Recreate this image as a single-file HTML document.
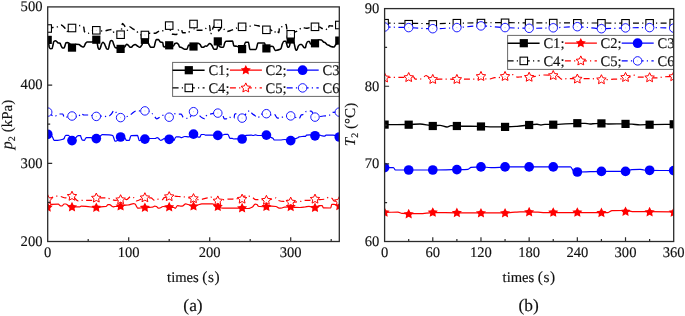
<!DOCTYPE html><html><head><meta charset="utf-8"><style>html,body{margin:0;padding:0;background:#fff;}body{width:685px;height:316px;overflow:hidden;}svg{display:block;will-change:transform;}text{font-family:"Liberation Serif", serif;fill:#111;stroke:#111;stroke-width:0.15px;text-rendering:geometricPrecision;}</style></head><body>
<svg width="685" height="316" viewBox="0 0 685 316">
<defs><clipPath id="ca"><rect x="47.7" y="6.9" width="291.6" height="234.6"/></clipPath><clipPath id="cb"><rect x="384.6" y="8.6" width="289.1" height="232.9"/></clipPath></defs>
<g clip-path="url(#ca)">
<path d="M47.7 40 C48.07 41.5 48.43 42.67 48.8 44.5 C48.97 45.33 49.13 47.18 49.3 47.5 C49.7 48.26 50.1 48.7 50.5 48.7 C51 48.7 51.5 48.67 52 48.6 C52.33 48.55 52.67 46.32 53 45 C53.27 43.94 53.53 41.72 53.8 41.5 C54.37 41.03 54.93 40.8 55.5 40.8 C56 40.8 56.5 41.38 57 41.8 C57.33 42.08 57.67 42.78 58 42.9 C58.67 43.14 59.33 43.04 60 43.3 C60.4 43.46 60.8 45.27 61.2 46 C61.63 46.79 62.07 48 62.5 48 C63 48 63.5 48 64 48 C64.4 48 64.8 46.05 65.2 45 C65.47 44.3 65.73 42.87 66 42.8 C66.5 42.66 67 42.6 67.5 42.6 C68.33 42.6 69.17 43.14 70 44 C70.37 44.38 70.73 47 71.1 47.25 C71.4 47.45 71.7 47.6 72 47.6 C72.33 47.6 72.67 47.41 73 47.25 C74 46.77 75 44.2 76 44.2 C77 44.2 78 44.31 79 44.5 C79.67 44.62 80.33 45.58 81 46 C81.6 46.38 82.2 47 82.8 47 C83.27 47 83.73 46.68 84.2 46.3 C84.63 45.95 85.07 44.1 85.5 43.5 C86 42.81 86.5 42.02 87 42 C88.67 41.92 90.33 41.97 92 41.9 C93.1 41.85 94.2 40.51 95.3 40.05 C95.63 39.91 95.97 39.7 96.3 39.7 C96.47 39.7 96.63 39.84 96.8 40.05 C97 40.3 97.2 42.76 97.4 44 C97.6 45.23 97.8 46.89 98 47.5 C98.24 48.23 98.48 48.73 98.72 48.95 C98.91 49.13 99.11 49.3 99.3 49.3 C99.48 49.3 99.66 49.13 99.84 48.95 C100.06 48.73 100.28 48.08 100.5 47.5 C100.77 46.8 101.03 45.43 101.3 44.8 C101.8 43.62 102.3 42.2 102.8 42.2 C103.3 42.2 103.8 42.87 104.3 43.5 C104.77 44.09 105.23 45.69 105.7 46.7 C106.05 47.45 106.4 48.62 106.75 48.85 C107.03 49.04 107.31 49.2 107.6 49.2 C107.88 49.2 108.17 49.06 108.45 48.85 C108.8 48.6 109.15 45.36 109.5 44.1 C109.85 42.84 110.2 41.19 110.55 40.95 C110.83 40.75 111.12 40.6 111.4 40.6 C111.73 40.6 112.07 40.75 112.4 40.95 C112.9 41.24 113.4 43.63 113.9 44.8 C114.33 45.81 114.77 47.42 115.2 47.6 C115.8 47.85 116.4 47.86 117 48 C118.2 48.28 119.4 48.9 120.6 48.9 C121.97 48.9 123.33 48.03 124.7 47 C125.33 46.52 125.97 44.2 126.6 44.2 C127.23 44.2 127.87 44.94 128.5 45.5 C128.9 45.86 129.31 46.73 129.71 46.95 C130.04 47.13 130.37 47.3 130.7 47.3 C131.03 47.3 131.37 47.12 131.7 46.95 C132.13 46.72 132.57 45.82 133 45.5 C133.7 44.99 134.4 44.4 135.1 44.4 C135.9 44.4 136.7 45.49 137.5 46 C138.2 46.45 138.9 47.3 139.6 47.3 C140.33 47.3 141.07 46.12 141.8 45.1 C142.53 44.08 143.27 40.56 144 40.15 C144.33 39.96 144.67 39.8 145 39.8 C145.33 39.8 145.67 39.98 146 40.15 C146.9 40.61 147.8 42.51 148.7 44 C148.97 44.44 149.23 45.08 149.5 45.5 C149.93 46.18 150.37 47.2 150.8 47.2 C151.9 47.2 153 47.2 154.1 47.2 C154.43 47.2 154.77 44.13 155.1 43 C155.5 41.64 155.9 39.6 156.3 39.6 C157.03 39.6 157.77 39.6 158.5 39.6 C159.13 39.6 159.77 41.9 160.4 42.1 C161.17 42.34 161.93 42.2 162.7 42.5 C162.97 42.61 163.25 46.3 163.52 46.55 C163.75 46.76 163.97 46.9 164.2 46.9 C164.53 46.9 164.87 46.66 165.2 46.55 C166.57 46.1 167.93 45.3 169.3 45.3 C170.67 45.3 172.03 46 173.4 46 C173.93 46 174.47 43.79 175 43.5 C175.63 43.16 176.27 42.9 176.9 42.9 C177.43 42.9 177.97 43.77 178.5 44.5 C178.9 45.05 179.3 46.83 179.7 47 C180.3 47.25 180.9 47.19 181.5 47.4 C182 47.57 182.5 48.21 183 48.5 C183.5 48.79 184 49.2 184.5 49.2 C185.33 49.2 186.17 49.2 187 49.2 C187.53 49.2 188.07 45.1 188.6 45.1 C190.3 45.1 192 46.5 193.7 46.5 C195.13 46.5 196.57 43.3 198 43.3 C198.67 43.3 199.33 43.86 200 44.4 C200.63 44.91 201.27 47.3 201.9 47.3 C202.43 47.3 202.97 47.26 203.5 47.2 C204.13 47.13 204.77 46 205.4 46 C205.77 46 206.13 46.2 206.5 46.2 C207 46.2 207.5 45.44 208 45 C208.5 44.56 209 43.5 209.5 43.5 C209.83 43.5 210.17 43.65 210.5 43.8 C211 44.03 211.5 44.75 212 45.5 C212.33 46 212.67 46.96 213 47.6 C213.3 48.18 213.6 49.2 213.9 49.2 C214.77 49.2 215.63 49.2 216.5 49.2 C216.83 49.2 217.17 48.33 217.5 46 C217.56 45.62 217.61 42 217.67 41.75 C217.71 41.54 217.76 41.4 217.8 41.4 C217.98 41.4 218.16 41.54 218.34 41.75 C218.56 42 218.78 45.75 219 46 C219.83 46.96 220.67 47.3 221.5 47.3 C222.13 47.3 222.77 47.3 223.4 47.3 C223.83 47.3 224.27 43.81 224.7 43 C225.13 42.19 225.57 41.33 226 41.3 C228.2 41.13 230.4 41.1 232.6 41.1 C233.03 41.1 233.47 45.93 233.9 46 C234.83 46.15 235.77 46.09 236.7 46.2 C238.17 46.38 239.63 48.14 241.1 48.75 C241.43 48.89 241.77 49.1 242.1 49.1 C242.43 49.1 242.77 48.94 243.1 48.75 C243.93 48.29 244.77 42.2 245.6 42.2 C246.53 42.2 247.47 42.2 248.4 42.2 C248.93 42.2 249.47 49.5 250 49.5 C252 49.5 254 49.5 256 49.5 C256.43 49.5 256.87 46.51 257.3 45 C257.5 44.3 257.7 42.9 257.9 42.9 C260.13 42.9 262.37 42.9 264.6 42.9 C265 42.9 265.41 47.79 265.81 48.05 C266.14 48.26 266.47 48.4 266.8 48.4 C267.13 48.4 267.47 48.19 267.8 48.05 C268.87 47.61 269.93 46.3 271 46.3 C271.67 46.3 272.33 46.38 273 46.5 C273.77 46.64 274.53 50.5 275.3 50.5 C275.87 50.5 276.43 50.32 277 50.2 C277.8 50.03 278.6 49.83 279.4 49.5 C279.93 49.28 280.47 49.08 281 48.5 C281.43 48.03 281.87 45 282.3 44 C282.83 42.78 283.37 41.3 283.9 41.3 C284.53 41.3 285.17 41.3 285.8 41.3 C286.1 41.3 286.4 43.05 286.7 44 C286.99 44.93 287.29 46.71 287.58 46.95 C287.82 47.15 288.06 47.3 288.3 47.3 C288.54 47.3 288.78 47.15 289.02 46.95 C289.31 46.71 289.61 45.71 289.9 44.4 C290.08 43.58 290.27 40.1 290.45 39.85 C290.6 39.64 290.75 39.5 290.9 39.5 C291.23 39.5 291.57 39.67 291.9 39.85 C292.6 40.22 293.3 41.49 294 43 C294.63 44.37 295.27 50.1 295.9 50.1 C296.2 50.1 296.5 50.1 296.8 50.1 C297.33 50.1 297.87 46.77 298.4 46 C298.93 45.23 299.47 44.4 300 44.4 C300.53 44.4 301.07 44.4 301.6 44.4 C302.13 44.4 302.67 45.87 303.2 46.5 C303.6 46.97 304 47.8 304.4 47.8 C304.77 47.8 305.13 47.7 305.5 47.5 C305.77 47.36 306.03 44.65 306.3 44 C306.83 42.7 307.37 41.5 307.9 41.5 C308.43 41.5 308.97 41.5 309.5 41.5 C309.83 41.5 310.17 44 310.5 44 C312 44 313.5 43.7 315 43.3 C316.33 42.94 317.67 39.8 319 39.8 C319.83 39.8 320.67 39.87 321.5 40 C322.17 40.1 322.83 41.67 323.5 42 C324 42.24 324.5 42.25 325 42.5 C325.67 42.83 326.33 44.25 327 44.6 C327.67 44.95 328.33 44.99 329 45.3 C329.6 45.58 330.2 46.34 330.8 46.5 C331.87 46.79 332.93 47 334 47 C334.5 47 335 45.63 335.5 45 C336.77 43.41 338.03 42.07 339.3 40.6" fill="none" stroke="#000" stroke-width="1.55" stroke-linejoin="round"/><rect x="43.6" y="35.8" width="8.2" height="8.2" fill="#000"/><rect x="67.9" y="43.5" width="8.2" height="8.2" fill="#000"/><rect x="92.2" y="35.6" width="8.2" height="8.2" fill="#000"/><rect x="116.5" y="44.8" width="8.2" height="8.2" fill="#000"/><rect x="140.8" y="35.7" width="8.2" height="8.2" fill="#000"/><rect x="165.1" y="41.2" width="8.2" height="8.2" fill="#000"/><rect x="189.4" y="42.4" width="8.2" height="8.2" fill="#000"/><rect x="213.7" y="37.3" width="8.2" height="8.2" fill="#000"/><rect x="238" y="45" width="8.2" height="8.2" fill="#000"/><rect x="262.3" y="44.3" width="8.2" height="8.2" fill="#000"/><rect x="286.6" y="35.4" width="8.2" height="8.2" fill="#000"/><rect x="310.9" y="39.2" width="8.2" height="8.2" fill="#000"/><rect x="335.2" y="36.5" width="8.2" height="8.2" fill="#000"/>
<path d="M47.7 207.4 C48.47 206.77 49.23 206.14 50 205.5 C50.43 205.14 50.87 204.43 51.3 204.4 C53.63 204.24 55.97 204.2 58.3 204.2 C59.07 204.2 59.83 205.81 60.6 205.9 C61.07 205.96 61.53 206 62 206 C62.7 206 63.4 204 64.1 204 C64.73 204 65.37 204 66 204 C66.5 204 67 204.73 67.5 205 C69.13 205.89 70.77 207.1 72.4 207.1 C73.83 207.1 75.27 206.8 76.7 206.8 C77.77 206.8 78.83 206.8 79.9 206.8 C80.3 206.8 80.7 206.2 81.1 206.2 C82.73 206.2 84.37 206.25 86 206.3 C89.63 206.42 93.27 207.7 96.9 207.7 C98.27 207.7 99.63 206.93 101 206.8 C102.67 206.64 104.33 206.71 106 206.5 C106.67 206.41 107.33 204.7 108 204.7 C108.57 204.7 109.13 204.7 109.7 204.7 C110.47 204.7 111.23 205.91 112 206.3 C112.4 206.5 112.8 206.8 113.2 206.8 C113.8 206.8 114.4 206.54 115 206.5 C116.87 206.38 118.73 206.43 120.6 206.3 C121.73 206.22 122.87 205.44 124 205.3 C125.33 205.14 126.67 205.15 128 205 C129.9 204.79 131.8 203.6 133.7 203.6 C134.13 203.6 134.57 203.78 135 204 C135.53 204.27 136.07 205.71 136.6 206.5 C137 207.09 137.4 208.2 137.8 208.2 C138.53 208.2 139.27 208.05 140 208 C141.67 207.88 143.33 207.81 145 207.7 C146.67 207.59 148.33 207.44 150 207.3 C150.8 207.23 151.6 207.21 152.4 207.1 C153.17 206.99 153.93 206.2 154.7 206.2 C155.3 206.2 155.9 206.33 156.5 206.5 C157.1 206.67 157.7 208.2 158.3 208.2 C158.87 208.2 159.43 208.1 160 208 C161 207.82 162 206.5 163 206.5 C165.13 206.5 167.27 206.91 169.4 207.1 C170.93 207.24 172.47 207.22 174 207.5 C174.4 207.57 174.8 208.3 175.2 208.3 C175.97 208.3 176.73 205.6 177.5 205.6 C178.33 205.6 179.17 205.9 180 206 C180.73 206.08 181.47 206.2 182.2 206.2 C183.37 206.2 184.53 203.9 185.7 203.9 C186.47 203.9 187.23 204.29 188 204.5 C189.97 205.05 191.93 206.3 193.9 206.3 C195.27 206.3 196.63 205.43 198 205 C199.27 204.6 200.53 203.8 201.8 203.8 C205.33 203.8 208.87 203.8 212.4 203.8 C214.33 203.8 216.27 206.08 218.2 206.8 C219.77 207.39 221.33 208.2 222.9 208.2 C227.27 208.2 231.63 208.2 236 208.2 C238.07 208.2 240.13 208.1 242.2 208.1 C243.77 208.1 245.33 208.5 246.9 208.5 C247.77 208.5 248.63 208.41 249.5 208.3 C250.5 208.17 251.5 207.7 252.5 207.1 C253.37 206.58 254.23 204.1 255.1 204.1 C255.73 204.1 256.37 204.26 257 204.5 C257.43 204.66 257.87 206.06 258.3 206.2 C258.87 206.38 259.43 206.45 260 206.5 C262.2 206.68 264.4 206.8 266.6 206.8 C268.23 206.8 269.87 206.2 271.5 206.2 C273 206.2 274.5 206.31 276 206.5 C277.03 206.63 278.07 208.2 279.1 208.2 C280.07 208.2 281.03 208.12 282 208 C282.8 207.9 283.6 207.15 284.4 207.1 C286.5 206.96 288.6 206.9 290.7 206.9 C292.3 206.9 293.9 207.34 295.5 207.4 C297 207.45 298.5 207.5 300 207.5 C301.67 207.5 303.33 207.21 305 207 C306.33 206.83 307.67 206.3 309 206.3 C310.87 206.3 312.73 207.8 314.6 207.8 C316.23 207.8 317.87 205.6 319.5 205.6 C320.4 205.6 321.3 205.62 322.2 205.7 C322.57 205.73 322.93 207.89 323.3 207.9 C325.77 207.99 328.23 208 330.7 208 C331.07 208 331.43 204.4 331.8 204.4 C332.53 204.4 333.27 204.4 334 204.4 C335.77 204.4 337.53 205.47 339.3 206" fill="none" stroke="#ff0000" stroke-width="1.2" stroke-linejoin="round"/><polygon points="47.7,202.1 49.26,205.26 52.74,205.76 50.22,208.22 50.82,211.69 47.7,210.05 44.58,211.69 45.18,208.22 42.66,205.76 46.14,205.26" fill="#ff0000"/><polygon points="72,201.8 73.56,204.96 77.04,205.46 74.52,207.92 75.12,211.39 72,209.75 68.88,211.39 69.48,207.92 66.96,205.46 70.44,204.96" fill="#ff0000"/><polygon points="96.3,202.4 97.86,205.56 101.34,206.06 98.82,208.52 99.42,211.99 96.3,210.35 93.18,211.99 93.78,208.52 91.26,206.06 94.74,205.56" fill="#ff0000"/><polygon points="120.6,201 122.16,204.16 125.64,204.66 123.12,207.12 123.72,210.59 120.6,208.95 117.48,210.59 118.08,207.12 115.56,204.66 119.04,204.16" fill="#ff0000"/><polygon points="144.9,202.4 146.46,205.56 149.94,206.06 147.42,208.52 148.02,211.99 144.9,210.35 141.78,211.99 142.38,208.52 139.86,206.06 143.34,205.56" fill="#ff0000"/><polygon points="169.2,201.8 170.76,204.96 174.24,205.46 171.72,207.92 172.32,211.39 169.2,209.75 166.08,211.39 166.68,207.92 164.16,205.46 167.64,204.96" fill="#ff0000"/><polygon points="193.5,201 195.06,204.16 198.54,204.66 196.02,207.12 196.62,210.59 193.5,208.95 190.38,210.59 190.98,207.12 188.46,204.66 191.94,204.16" fill="#ff0000"/><polygon points="217.8,201.5 219.36,204.66 222.84,205.16 220.32,207.62 220.92,211.09 217.8,209.45 214.68,211.09 215.28,207.62 212.76,205.16 216.24,204.66" fill="#ff0000"/><polygon points="242.1,202.8 243.66,205.96 247.14,206.46 244.62,208.92 245.22,212.39 242.1,210.75 238.98,212.39 239.58,208.92 237.06,206.46 240.54,205.96" fill="#ff0000"/><polygon points="266.4,201.5 267.96,204.66 271.44,205.16 268.92,207.62 269.52,211.09 266.4,209.45 263.28,211.09 263.88,207.62 261.36,205.16 264.84,204.66" fill="#ff0000"/><polygon points="290.7,201.6 292.26,204.76 295.74,205.26 293.22,207.72 293.82,211.19 290.7,209.55 287.58,211.19 288.18,207.72 285.66,205.26 289.14,204.76" fill="#ff0000"/><polygon points="315,202.5 316.56,205.66 320.04,206.16 317.52,208.62 318.12,212.09 315,210.45 311.88,212.09 312.48,208.62 309.96,206.16 313.44,205.66" fill="#ff0000"/><polygon points="339.3,200.7 340.86,203.86 344.34,204.36 341.82,206.82 342.42,210.29 339.3,208.65 336.18,210.29 336.78,206.82 334.26,204.36 337.74,203.86" fill="#ff0000"/>
<path d="M47.7 134.3 C48.97 134.7 50.23 134.74 51.5 135.5 C51.9 135.74 52.3 136.8 52.7 137.5 C53.2 138.38 53.7 140.3 54.2 140.3 C55.37 140.3 56.53 140.3 57.7 140.3 C59.47 140.3 61.23 139.8 63 139.2 C63.4 139.06 63.8 138.93 64.2 138.5 C64.37 138.32 64.53 137.34 64.7 137 C65.1 136.19 65.5 135.3 65.9 135.3 C66.77 135.3 67.63 135.3 68.5 135.3 C69.63 135.3 70.77 140.6 71.9 140.6 C73.43 140.6 74.97 138.77 76.5 137 C76.67 136.81 76.83 136.3 77 136.2 C77.5 135.89 78 135.7 78.5 135.7 C79.17 135.7 79.83 135.7 80.5 135.7 C80.7 135.7 80.9 137.02 81.1 137.5 C81.57 138.63 82.03 140.15 82.5 140.2 C83.17 140.27 83.83 140.3 84.5 140.3 C84.83 140.3 85.17 138.96 85.5 138.5 C85.77 138.13 86.03 137.6 86.3 137.6 C87.87 137.6 89.43 137.6 91 137.6 C92.83 137.6 94.67 138.6 96.5 138.6 C98 138.6 99.5 136.57 101 135.5 C101.37 135.24 101.73 134.7 102.1 134.7 C104.43 134.7 106.77 134.78 109.1 134.9 C110.3 134.96 111.5 135.06 112.7 135.5 C113.07 135.63 113.43 137.1 113.8 138 C114.2 138.98 114.6 141.2 115 141.2 C115.33 141.2 115.67 141.2 116 141.2 C117.53 141.2 119.07 137 120.6 137 C122.07 137 123.53 137.33 125 138 C125.47 138.21 125.93 140.3 126.4 140.3 C127.37 140.3 128.33 140.3 129.3 140.3 C129.6 140.3 129.9 138.25 130.2 137.5 C130.5 136.75 130.8 135.62 131.1 135.6 C133.23 135.43 135.37 135.4 137.5 135.4 C137.8 135.4 138.1 137.13 138.4 138 C138.7 138.87 139 140.6 139.3 140.6 C141.13 140.6 142.97 139.42 144.8 139.1 C146.37 138.83 147.93 138.5 149.5 138.5 C151.43 138.5 153.37 138.5 155.3 138.5 C155.9 138.5 156.5 137.7 157.1 137.7 C157.57 137.7 158.03 137.92 158.5 138.2 C158.8 138.38 159.1 139.22 159.4 139.5 C159.8 139.87 160.2 140.3 160.6 140.3 C161.23 140.3 161.87 140.06 162.5 139.8 C163 139.59 163.5 138.5 164 138.5 C165.77 138.5 167.53 138.96 169.3 139.3 C170.87 139.6 172.43 140.5 174 140.5 C174.3 140.5 174.6 139.02 174.9 138.5 C175.3 137.8 175.7 136.8 176.1 136.8 C177.17 136.8 178.23 136.8 179.3 136.8 C180.07 136.8 180.83 137.7 181.6 137.7 C182.6 137.7 183.6 136.5 184.6 136.5 C185.97 136.5 187.33 136.9 188.7 136.9 C190.33 136.9 191.97 134.1 193.6 134.1 C195.17 134.1 196.73 137.1 198.3 137.1 C198.8 137.1 199.3 137.1 199.8 137.1 C200.1 137.1 200.4 136.02 200.7 135.5 C200.9 135.16 201.1 134.5 201.3 134.5 C202.27 134.5 203.23 134.5 204.2 134.5 C204.6 134.5 205 135.2 205.4 135.2 C207.6 135.2 209.8 135.2 212 135.2 C213.93 135.2 215.87 135.4 217.8 135.4 C219.4 135.4 221 135.22 222.6 135 C223.3 134.9 224 134.4 224.7 134.4 C225.77 134.4 226.83 134.4 227.9 134.4 C228.27 134.4 228.63 135.78 229 136.5 C229.3 137.09 229.6 138.3 229.9 138.3 C230.7 138.3 231.5 138.3 232.3 138.3 C232.87 138.3 233.43 139 234 139 C234.67 139 235.33 138.8 236 138.8 C238.03 138.8 240.07 139 242.1 139 C243.4 139 244.7 135.4 246 135.3 C247.77 135.17 249.53 135.1 251.3 135.1 C251.87 135.1 252.43 135.5 253 135.5 C253.8 135.5 254.6 134.9 255.4 134.9 C256.37 134.9 257.33 135.5 258.3 135.5 C259.2 135.5 260.1 135.5 261 135.5 C262.8 135.5 264.6 135.1 266.4 135.1 C267.9 135.1 269.4 136.77 270.9 137.4 C271.43 137.63 271.97 137.69 272.5 138 C272.87 138.21 273.23 138.82 273.6 139.2 C273.87 139.48 274.13 140 274.4 140 C276.27 140 278.13 140 280 140 C281.67 140 283.33 139.5 285 139.5 C286.93 139.5 288.87 140.6 290.8 140.6 C292.37 140.6 293.93 139.19 295.5 138.6 C296.27 138.31 297.03 138.19 297.8 137.8 C298.2 137.59 298.6 136.88 299 136.8 C300 136.6 301 136.55 302 136.5 C303.17 136.45 304.33 136.48 305.5 136.4 C305.83 136.38 306.17 135.28 306.5 135.2 C307.67 134.91 308.83 134.8 310 134.8 C311.73 134.8 313.47 135.8 315.2 135.8 C316.73 135.8 318.27 135.2 319.8 135.2 C320.53 135.2 321.27 135.65 322 135.8 C322.83 135.97 323.67 136.2 324.5 136.2 C325 136.2 325.5 135.22 326 135.2 C328.33 135.12 330.67 135.1 333 135.1 C335.1 135.1 337.2 136.37 339.3 137" fill="none" stroke="#0000ff" stroke-width="1.2" stroke-linejoin="round"/><circle cx="47.7" cy="134.3" r="4.85" fill="#0000ff"/><circle cx="72" cy="140.6" r="4.85" fill="#0000ff"/><circle cx="96.3" cy="138.6" r="4.85" fill="#0000ff"/><circle cx="120.6" cy="137" r="4.85" fill="#0000ff"/><circle cx="144.9" cy="139.1" r="4.85" fill="#0000ff"/><circle cx="169.2" cy="139.3" r="4.85" fill="#0000ff"/><circle cx="193.5" cy="134.1" r="4.85" fill="#0000ff"/><circle cx="217.8" cy="135.4" r="4.85" fill="#0000ff"/><circle cx="242.1" cy="139" r="4.85" fill="#0000ff"/><circle cx="266.4" cy="135.1" r="4.85" fill="#0000ff"/><circle cx="290.7" cy="140.6" r="4.85" fill="#0000ff"/><circle cx="315" cy="135.8" r="4.85" fill="#0000ff"/><circle cx="339.3" cy="137" r="4.85" fill="#0000ff"/>
<path d="M47.7 28.5 C49.4 28.17 51.1 27.77 52.8 27.5 C54.27 27.27 55.73 27.22 57.2 26.9 C58.5 26.62 59.8 25 61.1 25 C62.4 25 63.7 26.64 65 28.3 C65.53 28.98 66.07 31.6 66.6 31.6 C68.4 31.6 70.2 28.74 72 28 C73.53 27.37 75.07 27.05 76.6 26.6 C77.9 26.22 79.2 25.5 80.5 25.5 C81.6 25.5 82.7 25.88 83.8 27.2 C84 27.44 84.2 31.39 84.4 31.6 C85.67 32.96 86.93 33.3 88.2 33.3 C89.33 33.3 90.47 31.29 91.6 31 C93.17 30.6 94.73 30.3 96.3 30.3 C98.7 30.3 101.1 31.1 103.5 31.1 C105.1 31.1 106.7 30.25 108.3 30 C109.73 29.78 111.17 29.5 112.6 29.5 C113.07 29.5 113.53 32.74 114 33 C116.2 34.25 118.4 34.7 120.6 34.7 C121.23 34.7 121.87 23.5 122.5 23.5 C123.47 23.5 124.43 26.06 125.4 27.3 C126.17 28.28 126.93 30.2 127.7 30.2 C128.33 30.2 128.97 26.9 129.6 26.9 C130.87 26.9 132.13 28.5 133.4 29.2 C134.37 29.74 135.33 30.02 136.3 30.7 C137.53 31.56 138.77 34.85 140 34.9 C141.7 34.97 143.4 35 145.1 35 C146.4 35 147.7 33.3 149 33.3 C151.13 33.3 153.27 33.3 155.4 33.3 C156.33 33.3 157.27 31.98 158.2 31.6 C159.17 31.2 160.13 30.7 161.1 30.7 C162.37 30.7 163.63 30.7 164.9 30.7 C166.43 30.7 167.97 25.6 169.5 25.6 C170 25.6 170.5 32.61 171 33.1 C171.8 33.88 172.6 34.21 173.4 34.3 C174.5 34.42 175.6 34.5 176.7 34.5 C177.2 34.5 177.7 30.48 178.2 30.2 C179.3 29.59 180.4 29.3 181.5 29.3 C181.83 29.3 182.17 32.7 182.5 32.7 C184.4 32.7 186.3 32.7 188.2 32.7 C189.93 32.7 191.67 24 193.4 24 C193.8 24 194.2 30.8 194.6 30.8 C195.63 30.8 196.67 30.2 197.7 30.2 C199.4 30.2 201.1 30.2 202.8 30.2 C203.87 30.2 204.93 28.97 206 28.3 C207.23 27.52 208.47 25.8 209.7 25.8 C209.97 25.8 210.23 34 210.5 34 C211.5 34 212.5 28.23 213.5 27 C214.87 25.32 216.23 23.7 217.6 23.7 C217.93 23.7 218.27 31 218.6 31 C219.67 31 220.73 27.4 221.8 27.4 C223.47 27.4 225.13 31.5 226.8 31.5 C227.87 31.5 228.93 31.09 230 30.8 C231.07 30.51 232.13 30.02 233.2 29.6 C234.7 29.01 236.2 28.11 237.7 27.7 C239.17 27.3 240.63 26.98 242.1 26.8 C244.83 26.46 247.57 26.46 250.3 26.1 C251.77 25.91 253.23 25.1 254.7 25.1 C255.87 25.1 257.03 25.51 258.2 25.8 C259.37 26.09 260.53 26.49 261.7 27 C263.23 27.66 264.77 29.8 266.3 29.8 C267.53 29.8 268.77 29.5 270 29.5 C271.47 29.5 272.93 32.7 274.4 32.7 C275.03 32.7 275.67 30.2 276.3 30.2 C277.17 30.2 278.03 32.7 278.9 32.7 C279.1 32.7 279.3 27.06 279.5 27 C280.57 26.66 281.63 26.82 282.7 26.6 C283.87 26.36 285.03 24.5 286.2 24.5 C286.5 24.5 286.8 30.22 287.1 30.8 C288.37 33.25 289.63 34.3 290.9 34.3 C292.17 34.3 293.43 32.74 294.7 32.1 C295.97 31.46 297.23 31.12 298.5 30.4 C299.77 29.68 301.03 27.4 302.3 27.4 C303.57 27.4 304.83 28.3 306.1 28.3 C307.57 28.3 309.03 27.64 310.5 27.4 C312 27.16 313.5 26.8 315 26.8 C316.67 26.8 318.33 26.89 320 27.1 C320.67 27.18 321.33 28.5 322 28.5 C323 28.5 324 28.5 325 28.5 C325.93 28.5 326.87 30 327.8 30 C328.27 30 328.73 25.7 329.2 25.7 C330.13 25.7 331.07 26 332 26 C334.43 26 336.87 25.33 339.3 25" fill="none" stroke="#000" stroke-width="1.4" stroke-linejoin="round" stroke-dasharray="6 3.2 1.2 3.4"/><rect x="43.95" y="24.75" width="7.5" height="7.5" fill="#fff" stroke="#000" stroke-width="1.1"/><rect x="47.25" y="28.05" width="0.9" height="0.9" fill="#bbb"/><rect x="68.25" y="24.25" width="7.5" height="7.5" fill="#fff" stroke="#000" stroke-width="1.1"/><rect x="71.55" y="27.55" width="0.9" height="0.9" fill="#bbb"/><rect x="92.55" y="26.55" width="7.5" height="7.5" fill="#fff" stroke="#000" stroke-width="1.1"/><rect x="95.85" y="29.85" width="0.9" height="0.9" fill="#bbb"/><rect x="116.85" y="30.95" width="7.5" height="7.5" fill="#fff" stroke="#000" stroke-width="1.1"/><rect x="120.15" y="34.25" width="0.9" height="0.9" fill="#bbb"/><rect x="141.15" y="31.25" width="7.5" height="7.5" fill="#fff" stroke="#000" stroke-width="1.1"/><rect x="144.45" y="34.55" width="0.9" height="0.9" fill="#bbb"/><rect x="165.45" y="21.85" width="7.5" height="7.5" fill="#fff" stroke="#000" stroke-width="1.1"/><rect x="168.75" y="25.15" width="0.9" height="0.9" fill="#bbb"/><rect x="189.75" y="20.25" width="7.5" height="7.5" fill="#fff" stroke="#000" stroke-width="1.1"/><rect x="193.05" y="23.55" width="0.9" height="0.9" fill="#bbb"/><rect x="214.05" y="19.95" width="7.5" height="7.5" fill="#fff" stroke="#000" stroke-width="1.1"/><rect x="217.35" y="23.25" width="0.9" height="0.9" fill="#bbb"/><rect x="238.35" y="23.05" width="7.5" height="7.5" fill="#fff" stroke="#000" stroke-width="1.1"/><rect x="241.65" y="26.35" width="0.9" height="0.9" fill="#bbb"/><rect x="262.65" y="26.05" width="7.5" height="7.5" fill="#fff" stroke="#000" stroke-width="1.1"/><rect x="265.95" y="29.35" width="0.9" height="0.9" fill="#bbb"/><rect x="286.95" y="30.55" width="7.5" height="7.5" fill="#fff" stroke="#000" stroke-width="1.1"/><rect x="290.25" y="33.85" width="0.9" height="0.9" fill="#bbb"/><rect x="311.25" y="23.05" width="7.5" height="7.5" fill="#fff" stroke="#000" stroke-width="1.1"/><rect x="314.55" y="26.35" width="0.9" height="0.9" fill="#bbb"/><rect x="335.55" y="21.25" width="7.5" height="7.5" fill="#fff" stroke="#000" stroke-width="1.1"/><rect x="338.85" y="24.55" width="0.9" height="0.9" fill="#bbb"/>
<path d="M47.7 199.7 C49.13 198.97 50.57 198.03 52 197.5 C53.5 196.94 55 196.2 56.5 196.2 C57.87 196.2 59.23 196.34 60.6 196.5 C62.17 196.68 63.73 197.9 65.3 197.9 C67.63 197.9 69.97 196.2 72.3 196.2 C74.23 196.2 76.17 200.9 78.1 200.9 C79.47 200.9 80.83 200.3 82.2 200.3 C85.33 200.3 88.47 200.3 91.6 200.3 C93.13 200.3 94.67 198.03 96.2 198 C99.53 197.93 102.87 197.9 106.2 197.9 C107.73 197.9 109.27 198.68 110.8 199.1 C112.17 199.48 113.53 200.3 114.9 200.3 C116.8 200.3 118.7 200.09 120.6 199.7 C121.57 199.5 122.53 197.3 123.5 197.3 C124.47 197.3 125.43 199.7 126.4 199.7 C127.77 199.7 129.13 196.8 130.5 196.8 C131.1 196.8 131.7 197.14 132.3 197.3 C133.07 197.51 133.83 197.54 134.6 197.9 C135.2 198.18 135.8 200.9 136.4 200.9 C139.3 200.9 142.2 197.7 145.1 197.7 C147.07 197.7 149.03 197.76 151 197.9 C152.17 197.98 153.33 200.3 154.5 200.3 C155.87 200.3 157.23 199.1 158.6 199.1 C159.93 199.1 161.27 199.7 162.6 199.7 C163 199.7 163.4 198.09 163.8 197.9 C165.63 197.01 167.47 196.84 169.3 196.6 C170.77 196.41 172.23 196.2 173.7 196.2 C175.27 196.2 176.83 196.4 178.4 196.5 C179.97 196.6 181.53 196.66 183.1 196.8 C186.33 197.09 189.57 197.99 192.8 198.6 C194.7 198.96 196.6 199.7 198.5 199.7 C201.43 199.7 204.37 198.65 207.3 197.9 C208.47 197.6 209.63 196.8 210.8 196.8 C211.37 196.8 211.93 198.76 212.5 199.1 C214.27 200.17 216.03 200.9 217.8 200.9 C219.73 200.9 221.67 200 223.6 199.7 C225.17 199.45 226.73 199.1 228.3 199.1 C229.47 199.1 230.63 199.1 231.8 199.1 C232.97 199.1 234.13 198.5 235.3 198.5 C237.63 198.5 239.97 199.1 242.3 199.1 C242.87 199.1 243.43 196.2 244 196.2 C245.57 196.2 247.13 196.2 248.7 196.2 C249.87 196.2 251.03 196.8 252.2 197.3 C253.37 197.8 254.53 199.7 255.7 199.7 C257.27 199.7 258.83 199.7 260.4 199.7 C262.57 199.7 264.73 200.3 266.9 200.3 C269.97 200.3 273.03 197.9 276.1 197.9 C276.7 197.9 277.3 200.07 277.9 200.3 C279.83 201.04 281.77 201.4 283.7 201.4 C284.27 201.4 284.83 199.7 285.4 199.7 C287.43 199.7 289.47 202.1 291.5 202.1 C294.53 202.1 297.57 201.81 300.6 201.4 C301.77 201.24 302.93 200.3 304.1 200.3 C305.67 200.3 307.23 200.3 308.8 200.3 C310.87 200.3 312.93 199.1 315 199.1 C316.63 199.1 318.27 199.7 319.9 199.7 C321.67 199.7 323.43 199.44 325.2 199.1 C326.37 198.87 327.53 197.3 328.7 197.3 C329.87 197.3 331.03 197.81 332.2 198.5 C332.77 198.84 333.33 200.76 333.9 200.9 C335.7 201.34 337.5 201.3 339.3 201.5" fill="none" stroke="#ff0000" stroke-width="1.2" stroke-linejoin="round" stroke-dasharray="6 3.2 1.2 3.4"/><polygon points="47.7,194.7 49.11,197.76 52.46,198.15 49.98,200.44 50.64,203.75 47.7,202.1 44.76,203.75 45.42,200.44 42.94,198.15 46.29,197.76" fill="#fff" stroke="#ff0000" stroke-width="1" stroke-linejoin="miter"/><rect x="47.25" y="199.25" width="0.9" height="0.9" fill="#fbb"/><polygon points="72,191.2 73.41,194.26 76.76,194.65 74.28,196.94 74.94,200.25 72,198.6 69.06,200.25 69.72,196.94 67.24,194.65 70.59,194.26" fill="#fff" stroke="#ff0000" stroke-width="1" stroke-linejoin="miter"/><rect x="71.55" y="195.75" width="0.9" height="0.9" fill="#fbb"/><polygon points="96.3,193 97.71,196.06 101.06,196.45 98.58,198.74 99.24,202.05 96.3,200.4 93.36,202.05 94.02,198.74 91.54,196.45 94.89,196.06" fill="#fff" stroke="#ff0000" stroke-width="1" stroke-linejoin="miter"/><rect x="95.85" y="197.55" width="0.9" height="0.9" fill="#fbb"/><polygon points="120.6,194.7 122.01,197.76 125.36,198.15 122.88,200.44 123.54,203.75 120.6,202.1 117.66,203.75 118.32,200.44 115.84,198.15 119.19,197.76" fill="#fff" stroke="#ff0000" stroke-width="1" stroke-linejoin="miter"/><rect x="120.15" y="199.25" width="0.9" height="0.9" fill="#fbb"/><polygon points="144.9,192.7 146.31,195.76 149.66,196.15 147.18,198.44 147.84,201.75 144.9,200.1 141.96,201.75 142.62,198.44 140.14,196.15 143.49,195.76" fill="#fff" stroke="#ff0000" stroke-width="1" stroke-linejoin="miter"/><rect x="144.45" y="197.25" width="0.9" height="0.9" fill="#fbb"/><polygon points="169.2,191.6 170.61,194.66 173.96,195.05 171.48,197.34 172.14,200.65 169.2,199 166.26,200.65 166.92,197.34 164.44,195.05 167.79,194.66" fill="#fff" stroke="#ff0000" stroke-width="1" stroke-linejoin="miter"/><rect x="168.75" y="196.15" width="0.9" height="0.9" fill="#fbb"/><polygon points="193.5,193.6 194.91,196.66 198.26,197.05 195.78,199.34 196.44,202.65 193.5,201 190.56,202.65 191.22,199.34 188.74,197.05 192.09,196.66" fill="#fff" stroke="#ff0000" stroke-width="1" stroke-linejoin="miter"/><rect x="193.05" y="198.15" width="0.9" height="0.9" fill="#fbb"/><polygon points="217.8,195.9 219.21,198.96 222.56,199.35 220.08,201.64 220.74,204.95 217.8,203.3 214.86,204.95 215.52,201.64 213.04,199.35 216.39,198.96" fill="#fff" stroke="#ff0000" stroke-width="1" stroke-linejoin="miter"/><rect x="217.35" y="200.45" width="0.9" height="0.9" fill="#fbb"/><polygon points="242.1,194.1 243.51,197.16 246.86,197.55 244.38,199.84 245.04,203.15 242.1,201.5 239.16,203.15 239.82,199.84 237.34,197.55 240.69,197.16" fill="#fff" stroke="#ff0000" stroke-width="1" stroke-linejoin="miter"/><rect x="241.65" y="198.65" width="0.9" height="0.9" fill="#fbb"/><polygon points="266.4,195.3 267.81,198.36 271.16,198.75 268.68,201.04 269.34,204.35 266.4,202.7 263.46,204.35 264.12,201.04 261.64,198.75 264.99,198.36" fill="#fff" stroke="#ff0000" stroke-width="1" stroke-linejoin="miter"/><rect x="265.95" y="199.85" width="0.9" height="0.9" fill="#fbb"/><polygon points="290.7,197.1 292.11,200.16 295.46,200.55 292.98,202.84 293.64,206.15 290.7,204.5 287.76,206.15 288.42,202.84 285.94,200.55 289.29,200.16" fill="#fff" stroke="#ff0000" stroke-width="1" stroke-linejoin="miter"/><rect x="290.25" y="201.65" width="0.9" height="0.9" fill="#fbb"/><polygon points="315,194.1 316.41,197.16 319.76,197.55 317.28,199.84 317.94,203.15 315,201.5 312.06,203.15 312.72,199.84 310.24,197.55 313.59,197.16" fill="#fff" stroke="#ff0000" stroke-width="1" stroke-linejoin="miter"/><rect x="314.55" y="198.65" width="0.9" height="0.9" fill="#fbb"/><polygon points="339.3,196.5 340.71,199.56 344.06,199.95 341.58,202.24 342.24,205.55 339.3,203.9 336.36,205.55 337.02,202.24 334.54,199.95 337.89,199.56" fill="#fff" stroke="#ff0000" stroke-width="1" stroke-linejoin="miter"/><rect x="338.85" y="201.05" width="0.9" height="0.9" fill="#fbb"/>
<path d="M47.7 112.1 C50.03 113.53 52.37 116.4 54.7 116.4 C55.97 116.4 57.23 114 58.5 114 C59.93 114 61.37 114 62.8 114 C63.27 114 63.73 117.4 64.2 117.4 C66.8 117.4 69.4 116 72 116 C74.17 116 76.33 117.1 78.5 117.1 C79.2 117.1 79.9 113.5 80.6 113.5 C81.77 113.5 82.93 115 84.1 115 C85.77 115 87.43 115 89.1 115 C91.6 115 94.1 116.4 96.6 116.4 C98.87 116.4 101.13 116 103.4 116 C104.8 116 106.2 116.8 107.6 116.8 C108.8 116.8 110 115.31 111.2 114.2 C112.13 113.34 113.07 110.7 114 110.7 C116.17 110.7 118.33 117.6 120.5 117.6 C123.17 117.6 125.83 116.89 128.5 116 C129.7 115.6 130.9 114.32 132.1 113.5 C133.3 112.68 134.5 111.16 135.7 111.1 C138.83 110.95 141.97 110.9 145.1 110.9 C146.47 110.9 147.83 111.1 149.2 111.4 C149.9 111.56 150.6 112.24 151.3 112.8 C152.17 113.49 153.03 114.45 153.9 115.4 C154.83 116.42 155.77 118.8 156.7 118.8 C158.7 118.8 160.7 115.4 162.7 115.4 C164.97 115.4 167.23 117.2 169.5 117.2 C170.8 117.2 172.1 113.5 173.4 113.5 C174.83 113.5 176.27 114.2 177.7 114.2 C178.87 114.2 180.03 114.2 181.2 114.2 C181.9 114.2 182.6 117.13 183.3 117.4 C185.2 118.14 187.1 118.5 189 118.5 C190.57 118.5 192.13 111.7 193.7 111.7 C195.13 111.7 196.57 113.2 198 114.2 C199.37 115.16 200.73 117.14 202.1 117.8 C203.07 118.27 204.03 118.8 205 118.8 C205.37 118.8 205.73 116.33 206.1 116 C207.4 114.83 208.7 114.5 210 114.2 C212.63 113.6 215.27 113.1 217.9 113.1 C219.67 113.1 221.43 114.38 223.2 116.4 C223.53 116.78 223.87 118.8 224.2 118.8 C224.9 118.8 225.6 118.8 226.3 118.8 C227.03 118.8 227.77 116.8 228.5 116.8 C229.43 116.8 230.37 117.61 231.3 117.8 C232.23 117.99 233.17 118.2 234.1 118.2 C234.27 118.2 234.43 114.29 234.6 114.2 C235.63 113.61 236.67 113.5 237.7 113.5 C239.23 113.5 240.77 118.1 242.3 118.1 C244.33 118.1 246.37 111.1 248.4 111.1 C249.33 111.1 250.27 111.1 251.2 111.1 C251.37 111.1 251.53 112.85 251.7 113.1 C252.73 114.65 253.77 114.66 254.8 115.4 C255.97 116.23 257.13 117.8 258.3 117.8 C259.03 117.8 259.77 114.34 260.5 114.2 C262.5 113.83 264.5 113.7 266.5 113.7 C267.9 113.7 269.3 114.9 270.7 114.9 C271.9 114.9 273.1 114.2 274.3 114.2 C275.23 114.2 276.17 117.6 277.1 117.8 C278.3 118.05 279.5 118.2 280.7 118.2 C281.63 118.2 282.57 116.53 283.5 116.4 C285.97 116.06 288.43 115.9 290.9 115.9 C293.67 115.9 296.43 118.5 299.2 118.5 C299.9 118.5 300.6 115.22 301.3 114.9 C302.23 114.48 303.17 114.6 304.1 114.2 C304.83 113.89 305.57 111.5 306.3 111.4 C307.97 111.18 309.63 111.1 311.3 111.1 C312.53 111.1 313.77 117.1 315 117.1 C317.8 117.1 320.6 116.32 323.4 116 C325.3 115.78 327.2 115.8 329.1 115.4 C330.03 115.2 330.97 112.61 331.9 112.5 C334.37 112.21 336.83 112.23 339.3 112.1" fill="none" stroke="#0000ff" stroke-width="1.2" stroke-linejoin="round" stroke-dasharray="6 3.2 1.2 3.4"/><circle cx="47.7" cy="112.1" r="4.25" fill="#fff" stroke="#0000ff" stroke-width="0.9"/><rect x="47.25" y="111.65" width="0.9" height="0.9" fill="#bbf"/><circle cx="72" cy="116" r="4.25" fill="#fff" stroke="#0000ff" stroke-width="0.9"/><rect x="71.55" y="115.55" width="0.9" height="0.9" fill="#bbf"/><circle cx="96.3" cy="116.4" r="4.25" fill="#fff" stroke="#0000ff" stroke-width="0.9"/><rect x="95.85" y="115.95" width="0.9" height="0.9" fill="#bbf"/><circle cx="120.6" cy="117.6" r="4.25" fill="#fff" stroke="#0000ff" stroke-width="0.9"/><rect x="120.15" y="117.15" width="0.9" height="0.9" fill="#bbf"/><circle cx="144.9" cy="110.9" r="4.25" fill="#fff" stroke="#0000ff" stroke-width="0.9"/><rect x="144.45" y="110.45" width="0.9" height="0.9" fill="#bbf"/><circle cx="169.2" cy="117.2" r="4.25" fill="#fff" stroke="#0000ff" stroke-width="0.9"/><rect x="168.75" y="116.75" width="0.9" height="0.9" fill="#bbf"/><circle cx="193.5" cy="111.7" r="4.25" fill="#fff" stroke="#0000ff" stroke-width="0.9"/><rect x="193.05" y="111.25" width="0.9" height="0.9" fill="#bbf"/><circle cx="217.8" cy="113.1" r="4.25" fill="#fff" stroke="#0000ff" stroke-width="0.9"/><rect x="217.35" y="112.65" width="0.9" height="0.9" fill="#bbf"/><circle cx="242.1" cy="118.1" r="4.25" fill="#fff" stroke="#0000ff" stroke-width="0.9"/><rect x="241.65" y="117.65" width="0.9" height="0.9" fill="#bbf"/><circle cx="266.4" cy="113.7" r="4.25" fill="#fff" stroke="#0000ff" stroke-width="0.9"/><rect x="265.95" y="113.25" width="0.9" height="0.9" fill="#bbf"/><circle cx="290.7" cy="115.9" r="4.25" fill="#fff" stroke="#0000ff" stroke-width="0.9"/><rect x="290.25" y="115.45" width="0.9" height="0.9" fill="#bbf"/><circle cx="315" cy="117.1" r="4.25" fill="#fff" stroke="#0000ff" stroke-width="0.9"/><rect x="314.55" y="116.65" width="0.9" height="0.9" fill="#bbf"/><circle cx="339.3" cy="112.1" r="4.25" fill="#fff" stroke="#0000ff" stroke-width="0.9"/><rect x="338.85" y="111.65" width="0.9" height="0.9" fill="#bbf"/>
<rect x="172.6" y="62.4" width="260" height="34" fill="#fff" stroke="#6a6a6a" stroke-width="1"/>
<path d="M172.6 70.2 H204.6" stroke="#000" stroke-width="1.5"/>
<rect x="184.7" y="66.1" width="8.2" height="8.2" fill="#000"/>
<text x="208.4" y="75.2" font-size="14.6">C1;</text>
<path d="M229.9 70.2 H261.9" stroke="#ff0000" stroke-width="1.2"/>
<polygon points="245.8,64.9 247.36,68.06 250.84,68.56 248.32,71.02 248.92,74.49 245.8,72.85 242.68,74.49 243.28,71.02 240.76,68.56 244.24,68.06" fill="#ff0000"/>
<text x="265.6" y="75.2" font-size="14.6">C2;</text>
<path d="M286.7 70.2 H318.7" stroke="#0000ff" stroke-width="1.2"/>
<circle cx="302.6" cy="70.2" r="4.85" fill="#0000ff"/>
<text x="322.6" y="75.2" font-size="14.6">C3</text>
<path d="M172.6 87.9 H188.8" stroke="#000" stroke-width="1.4" stroke-dasharray="6 3.2 1.2 3.4"/>
<path d="M188.8 87.9 H204.6" stroke="#000" stroke-width="1.4" stroke-dasharray="6 3.2 1.2 3.4"/>
<rect x="185.05" y="84.15" width="7.5" height="7.5" fill="#fff" stroke="#000" stroke-width="1.1"/><rect x="188.35" y="87.45" width="0.9" height="0.9" fill="#bbb"/>
<text x="208.4" y="92.9" font-size="14.6">C4;</text>
<path d="M229.9 87.9 H245.8" stroke="#ff0000" stroke-width="1.2" stroke-dasharray="6 3.2 1.2 3.4"/>
<path d="M245.8 87.9 H261.9" stroke="#ff0000" stroke-width="1.2" stroke-dasharray="6 3.2 1.2 3.4"/>
<polygon points="245.8,82.9 247.21,85.96 250.56,86.35 248.08,88.64 248.74,91.95 245.8,90.3 242.86,91.95 243.52,88.64 241.04,86.35 244.39,85.96" fill="#fff" stroke="#ff0000" stroke-width="1" stroke-linejoin="miter"/><rect x="245.35" y="87.45" width="0.9" height="0.9" fill="#fbb"/>
<text x="265.6" y="92.9" font-size="14.6">C5;</text>
<path d="M286.7 87.9 H302.6" stroke="#0000ff" stroke-width="1.2" stroke-dasharray="6 3.2 1.2 3.4"/>
<path d="M302.6 87.9 H318.7" stroke="#0000ff" stroke-width="1.2" stroke-dasharray="6 3.2 1.2 3.4"/>
<circle cx="302.6" cy="87.9" r="4.25" fill="#fff" stroke="#0000ff" stroke-width="0.9"/><rect x="302.15" y="87.45" width="0.9" height="0.9" fill="#bbf"/>
<text x="322.6" y="92.9" font-size="14.6">C6</text>
</g>
<g clip-path="url(#cb)">
<path d="M384.6 124.6 C392.63 124.57 400.67 124.57 408.7 124.5 C412.47 124.47 416.23 124 420 124 C424.27 124 428.53 125.6 432.8 125.6 C435.2 125.6 437.6 125.4 440 125.4 C442.33 125.4 444.67 127 447 127 C448.33 127 449.67 125.6 451 125.6 C452.97 125.6 454.93 125.94 456.9 126 C464.93 126.24 472.97 126.22 481 126.4 C485 126.49 489 126.8 493 126.8 C497.03 126.8 501.07 126.8 505.1 126.8 C509.07 126.8 513.03 126.54 517 126.3 C521.07 126.06 525.13 125.42 529.2 125 C531.8 124.73 534.4 124.2 537 124.2 C538.33 124.2 539.67 125 541 125 C542.33 125 543.67 124.4 545 124.4 C547.77 124.4 550.53 124.5 553.3 124.5 C561.33 124.5 569.37 123.3 577.4 123.3 C579.93 123.3 582.47 123.3 585 123.3 C586.67 123.3 588.33 124 590 124 C591.67 124 593.33 123.68 595 123.6 C597.17 123.5 599.33 123.4 601.5 123.4 C603.67 123.4 605.83 124 608 124 C613.87 124 619.73 123.9 625.6 123.9 C627.73 123.9 629.87 124.08 632 124.2 C634.67 124.35 637.33 124.8 640 124.8 C643.23 124.8 646.47 124.65 649.7 124.6 C657.7 124.47 665.7 124.4 673.7 124.3" fill="none" stroke="#000" stroke-width="1.35" stroke-linejoin="round"/><rect x="380.5" y="120.5" width="8.2" height="8.2" fill="#000"/><rect x="404.59" y="120.6" width="8.2" height="8.2" fill="#000"/><rect x="428.68" y="121.9" width="8.2" height="8.2" fill="#000"/><rect x="452.77" y="121.9" width="8.2" height="8.2" fill="#000"/><rect x="476.87" y="122.4" width="8.2" height="8.2" fill="#000"/><rect x="500.96" y="122.8" width="8.2" height="8.2" fill="#000"/><rect x="525.05" y="120.9" width="8.2" height="8.2" fill="#000"/><rect x="549.14" y="120.6" width="8.2" height="8.2" fill="#000"/><rect x="573.23" y="119.1" width="8.2" height="8.2" fill="#000"/><rect x="597.33" y="119.3" width="8.2" height="8.2" fill="#000"/><rect x="621.42" y="119.8" width="8.2" height="8.2" fill="#000"/><rect x="645.51" y="120.6" width="8.2" height="8.2" fill="#000"/><rect x="669.6" y="120.2" width="8.2" height="8.2" fill="#000"/>
<path d="M384.6 212.3 C389.07 212.27 393.53 212.2 398 212.2 C399.33 212.2 400.67 213.32 402 213.4 C404.23 213.53 406.47 213.57 408.7 213.6 C412.47 213.65 416.23 213.7 420 213.7 C424.27 213.7 428.53 212.6 432.8 212.6 C440.83 212.6 448.87 212.76 456.9 212.8 C464.93 212.84 472.97 212.9 481 212.9 C489.03 212.9 497.07 212.9 505.1 212.9 C508.4 212.9 511.7 212.45 515 212.2 C516.67 212.07 518.33 211.8 520 211.8 C523.07 211.8 526.13 211.8 529.2 211.8 C532.13 211.8 535.07 212.05 538 212.2 C540.33 212.32 542.67 212.6 545 212.6 C547.77 212.6 550.53 212.6 553.3 212.6 C561.33 212.6 569.37 212.6 577.4 212.6 C585.43 212.6 593.47 212.6 601.5 212.6 C603.67 212.6 605.83 212.6 608 212.6 C609.33 212.6 610.67 210.62 612 210.6 C616.53 210.52 621.07 210.5 625.6 210.5 C628.4 210.5 631.2 211.56 634 211.6 C639.23 211.67 644.47 211.66 649.7 211.7 C657.7 211.76 665.7 211.83 673.7 211.9" fill="none" stroke="#ff0000" stroke-width="1.2" stroke-linejoin="round"/><polygon points="384.6,207.2 386.16,210.36 389.64,210.86 387.12,213.32 387.72,216.79 384.6,215.15 381.48,216.79 382.08,213.32 379.56,210.86 383.04,210.36" fill="#ff0000"/><polygon points="408.69,208.8 410.25,211.96 413.73,212.46 411.21,214.92 411.81,218.39 408.69,216.75 405.58,218.39 406.17,214.92 403.65,212.46 407.13,211.96" fill="#ff0000"/><polygon points="432.78,207.2 434.34,210.36 437.82,210.86 435.3,213.32 435.9,216.79 432.78,215.15 429.67,216.79 430.26,213.32 427.74,210.86 431.23,210.36" fill="#ff0000"/><polygon points="456.88,207.6 458.43,210.76 461.92,211.26 459.4,213.72 459.99,217.19 456.88,215.55 453.76,217.19 454.35,213.72 451.83,211.26 455.32,210.76" fill="#ff0000"/><polygon points="480.97,207.9 482.52,211.06 486.01,211.56 483.49,214.02 484.08,217.49 480.97,215.85 477.85,217.49 478.45,214.02 475.93,211.56 479.41,211.06" fill="#ff0000"/><polygon points="505.06,207.9 506.62,211.06 510.1,211.56 507.58,214.02 508.17,217.49 505.06,215.85 501.94,217.49 502.54,214.02 500.02,211.56 503.5,211.06" fill="#ff0000"/><polygon points="529.15,206.8 530.71,209.96 534.19,210.46 531.67,212.92 532.27,216.39 529.15,214.75 526.03,216.39 526.63,212.92 524.11,210.46 527.59,209.96" fill="#ff0000"/><polygon points="553.24,207.2 554.8,210.36 558.28,210.86 555.76,213.32 556.36,216.79 553.24,215.15 550.13,216.79 550.72,213.32 548.2,210.86 551.68,210.36" fill="#ff0000"/><polygon points="577.33,207.2 578.89,210.36 582.37,210.86 579.85,213.32 580.45,216.79 577.33,215.15 574.22,216.79 574.81,213.32 572.29,210.86 575.78,210.36" fill="#ff0000"/><polygon points="601.43,207.6 602.98,210.76 606.47,211.26 603.95,213.72 604.54,217.19 601.43,215.55 598.31,217.19 598.9,213.72 596.38,211.26 599.87,210.76" fill="#ff0000"/><polygon points="625.52,206.4 627.07,209.56 630.56,210.06 628.04,212.52 628.63,215.99 625.52,214.35 622.4,215.99 623,212.52 620.48,210.06 623.96,209.56" fill="#ff0000"/><polygon points="649.61,206.8 651.17,209.96 654.65,210.46 652.13,212.92 652.72,216.39 649.61,214.75 646.49,216.39 647.09,212.92 644.57,210.46 648.05,209.96" fill="#ff0000"/><polygon points="673.7,207.2 675.26,210.36 678.74,210.86 676.22,213.32 676.82,216.79 673.7,215.15 670.58,216.79 671.18,213.32 668.66,210.86 672.14,210.36" fill="#ff0000"/>
<path d="M384.6 167.6 C387.53 167.6 390.47 167.6 393.4 167.6 C394.07 167.6 394.73 170 395.4 170 C399.83 170 404.27 170 408.7 170 C416.73 170 424.77 170 432.8 170 C440.83 170 448.87 169.77 456.9 169.6 C460.6 169.52 464.3 169.53 468 169.3 C469 169.24 470 167.51 471 167.4 C474.33 167.04 477.67 166.9 481 166.9 C484.33 166.9 487.67 167.6 491 167.6 C494 167.6 497 167.45 500 167.3 C501.7 167.22 503.4 166.92 505.1 166.9 C513.13 166.82 521.17 166.8 529.2 166.8 C537.23 166.8 545.27 166.8 553.3 166.8 C559.03 166.8 564.77 166.8 570.5 166.8 C571.67 166.8 572.83 171.19 574 171.5 C575.13 171.8 576.27 172 577.4 172 C585.43 172 593.47 171.46 601.5 171.4 C609.53 171.34 617.57 171.38 625.6 171.3 C627.73 171.28 629.87 169.74 632 169.6 C634.67 169.42 637.33 169.3 640 169.3 C641.33 169.3 642.67 169.89 644 170 C645.9 170.16 647.8 170.26 649.7 170.3 C657.7 170.49 665.7 170.5 673.7 170.6" fill="none" stroke="#0000ff" stroke-width="1.2" stroke-linejoin="round"/><circle cx="384.6" cy="167.6" r="4.85" fill="#0000ff"/><circle cx="408.69" cy="170" r="4.85" fill="#0000ff"/><circle cx="432.78" cy="170" r="4.85" fill="#0000ff"/><circle cx="456.88" cy="169.6" r="4.85" fill="#0000ff"/><circle cx="480.97" cy="166.9" r="4.85" fill="#0000ff"/><circle cx="505.06" cy="166.9" r="4.85" fill="#0000ff"/><circle cx="529.15" cy="166.9" r="4.85" fill="#0000ff"/><circle cx="553.24" cy="166.9" r="4.85" fill="#0000ff"/><circle cx="577.33" cy="172" r="4.85" fill="#0000ff"/><circle cx="601.43" cy="171.4" r="4.85" fill="#0000ff"/><circle cx="625.52" cy="171.4" r="4.85" fill="#0000ff"/><circle cx="649.61" cy="170.3" r="4.85" fill="#0000ff"/><circle cx="673.7" cy="170.6" r="4.85" fill="#0000ff"/>
<path d="M384.6 23.2 C392.63 23.23 400.66 23.25 408.69 23.3 C416.72 23.35 424.75 23.6 432.78 23.6 C440.81 23.6 448.84 23.33 456.88 23.2 C464.91 23.07 472.94 22.85 480.97 22.8 C489 22.75 497.03 22.7 505.06 22.7 C513.09 22.7 521.12 22.9 529.15 22.9 C537.18 22.9 545.21 22.8 553.24 22.8 C561.27 22.8 569.3 23 577.33 23 C585.36 23 593.39 23 601.43 23 C609.46 23 617.49 23.07 625.52 23.1 C633.55 23.13 641.58 23.2 649.61 23.2 C657.64 23.2 665.67 23.07 673.7 23" fill="none" stroke="#000" stroke-width="1.2" stroke-linejoin="round" stroke-dasharray="6 3.2 1.2 3.4"/><rect x="380.85" y="19.45" width="7.5" height="7.5" fill="#fff" stroke="#000" stroke-width="1.1"/><rect x="384.15" y="22.75" width="0.9" height="0.9" fill="#bbb"/><rect x="404.94" y="20.45" width="7.5" height="7.5" fill="#fff" stroke="#000" stroke-width="1.1"/><rect x="408.24" y="23.75" width="0.9" height="0.9" fill="#bbb"/><rect x="429.03" y="20.65" width="7.5" height="7.5" fill="#fff" stroke="#000" stroke-width="1.1"/><rect x="432.33" y="23.95" width="0.9" height="0.9" fill="#bbb"/><rect x="453.12" y="19.45" width="7.5" height="7.5" fill="#fff" stroke="#000" stroke-width="1.1"/><rect x="456.43" y="22.75" width="0.9" height="0.9" fill="#bbb"/><rect x="477.22" y="19.35" width="7.5" height="7.5" fill="#fff" stroke="#000" stroke-width="1.1"/><rect x="480.52" y="22.65" width="0.9" height="0.9" fill="#bbb"/><rect x="501.31" y="19.05" width="7.5" height="7.5" fill="#fff" stroke="#000" stroke-width="1.1"/><rect x="504.61" y="22.35" width="0.9" height="0.9" fill="#bbb"/><rect x="525.4" y="19.35" width="7.5" height="7.5" fill="#fff" stroke="#000" stroke-width="1.1"/><rect x="528.7" y="22.65" width="0.9" height="0.9" fill="#bbb"/><rect x="549.49" y="19.35" width="7.5" height="7.5" fill="#fff" stroke="#000" stroke-width="1.1"/><rect x="552.79" y="22.65" width="0.9" height="0.9" fill="#bbb"/><rect x="573.58" y="19.55" width="7.5" height="7.5" fill="#fff" stroke="#000" stroke-width="1.1"/><rect x="576.88" y="22.85" width="0.9" height="0.9" fill="#bbb"/><rect x="597.68" y="19.55" width="7.5" height="7.5" fill="#fff" stroke="#000" stroke-width="1.1"/><rect x="600.98" y="22.85" width="0.9" height="0.9" fill="#bbb"/><rect x="621.77" y="19.55" width="7.5" height="7.5" fill="#fff" stroke="#000" stroke-width="1.1"/><rect x="625.07" y="22.85" width="0.9" height="0.9" fill="#bbb"/><rect x="645.86" y="19.55" width="7.5" height="7.5" fill="#fff" stroke="#000" stroke-width="1.1"/><rect x="649.16" y="22.85" width="0.9" height="0.9" fill="#bbb"/><rect x="669.95" y="19.35" width="7.5" height="7.5" fill="#fff" stroke="#000" stroke-width="1.1"/><rect x="673.25" y="22.65" width="0.9" height="0.9" fill="#bbb"/>
<path d="M384.6 77.9 C386.4 77.7 388.2 77.3 390 77.3 C391.67 77.3 393.33 77.3 395 77.3 C396.43 77.3 397.87 77.3 399.3 77.3 C401 77.3 402.7 77.3 404.4 77.3 C405.93 77.3 407.47 77.5 409 77.5 C410.4 77.5 411.8 76.6 413.2 76.6 C413.93 76.6 414.67 79.1 415.4 79.1 C416.87 79.1 418.33 79.1 419.8 79.1 C420.63 79.1 421.47 78.73 422.3 78.4 C423.53 77.91 424.77 75.5 426 75.5 C426.83 75.5 427.67 76.52 428.5 77 C429.93 77.83 431.37 79.4 432.8 79.4 C435.07 79.4 437.33 79.2 439.6 79.2 C441.67 79.2 443.73 79.2 445.8 79.2 C447.2 79.2 448.6 79.2 450 79.2 C452.3 79.2 454.6 79.4 456.9 79.4 C459.6 79.4 462.3 79.2 465 79.2 C466.47 79.2 467.93 79.2 469.4 79.2 C472 79.2 474.6 79.2 477.2 79.2 C478.47 79.2 479.73 76.4 481 76.4 C482.27 76.4 483.53 79 484.8 79 C485.4 79 486 78.9 486.6 78.9 C487.77 78.9 488.93 78.9 490.1 78.9 C491.57 78.9 493.03 77.6 494.5 77.6 C495.67 77.6 496.83 77.6 498 77.6 C500.37 77.6 502.73 76.99 505.1 76.4 C506.53 76.04 507.97 74.6 509.4 74.6 C510.57 74.6 511.73 74.6 512.9 74.6 C514.37 74.6 515.83 77.2 517.3 77.2 C518.77 77.2 520.23 76.8 521.7 76.8 C524.2 76.8 526.7 77.2 529.2 77.2 C531.37 77.2 533.53 76.73 535.7 76.3 C536.7 76.1 537.7 75.52 538.7 75.4 C540.6 75.17 542.5 75 544.4 75 C547.37 75 550.33 75.24 553.3 75.5 C554.87 75.64 556.43 75.77 558 76.3 C558.27 76.39 558.53 76.79 558.8 77 C559.97 77.92 561.13 79.4 562.3 79.4 C563.77 79.4 565.23 78.7 566.7 78.7 C568.73 78.7 570.77 78.7 572.8 78.7 C574.33 78.7 575.87 79 577.4 79 C578.8 79 580.2 78.7 581.6 78.7 C583.63 78.7 585.67 78.7 587.7 78.7 C589.27 78.7 590.83 78.7 592.4 78.7 C595.43 78.7 598.47 79.7 601.5 79.7 C604 79.7 606.5 79.7 609 79.7 C610.57 79.7 612.13 79.1 613.7 79.1 C615.47 79.1 617.23 79.1 619 79.1 C621.2 79.1 623.4 77.78 625.6 77.4 C627.07 77.14 628.53 77.08 630 76.8 C631.57 76.5 633.13 75.2 634.7 75.2 C635.87 75.2 637.03 77.1 638.2 77.1 C640.13 77.1 642.07 77.1 644 77.1 C645.9 77.1 647.8 77.59 649.7 77.7 C651.33 77.8 652.97 77.9 654.6 77.9 C655.97 77.9 657.33 77.9 658.7 77.9 C660.07 77.9 661.43 76.85 662.8 76.8 C666.43 76.66 670.07 76.67 673.7 76.6" fill="none" stroke="#ff0000" stroke-width="1.2" stroke-linejoin="round" stroke-dasharray="6 3.2 1.2 3.4"/><polygon points="384.6,72.9 386.01,75.96 389.36,76.35 386.88,78.64 387.54,81.95 384.6,80.3 381.66,81.95 382.32,78.64 379.84,76.35 383.19,75.96" fill="#fff" stroke="#ff0000" stroke-width="1" stroke-linejoin="miter"/><rect x="384.15" y="77.45" width="0.9" height="0.9" fill="#fbb"/><polygon points="408.69,72.5 410.1,75.56 413.45,75.95 410.97,78.24 411.63,81.55 408.69,79.9 405.75,81.55 406.41,78.24 403.94,75.95 407.28,75.56" fill="#fff" stroke="#ff0000" stroke-width="1" stroke-linejoin="miter"/><rect x="408.24" y="77.05" width="0.9" height="0.9" fill="#fbb"/><polygon points="432.78,74.4 434.19,77.46 437.54,77.85 435.07,80.14 435.72,83.45 432.78,81.8 429.84,83.45 430.5,80.14 428.03,77.85 431.37,77.46" fill="#fff" stroke="#ff0000" stroke-width="1" stroke-linejoin="miter"/><rect x="432.33" y="78.95" width="0.9" height="0.9" fill="#fbb"/><polygon points="456.88,74.4 458.29,77.46 461.63,77.85 459.16,80.14 459.81,83.45 456.88,81.8 453.94,83.45 454.59,80.14 452.12,77.85 455.46,77.46" fill="#fff" stroke="#ff0000" stroke-width="1" stroke-linejoin="miter"/><rect x="456.43" y="78.95" width="0.9" height="0.9" fill="#fbb"/><polygon points="480.97,71.4 482.38,74.46 485.72,74.85 483.25,77.14 483.91,80.45 480.97,78.8 478.03,80.45 478.68,77.14 476.21,74.85 479.56,74.46" fill="#fff" stroke="#ff0000" stroke-width="1" stroke-linejoin="miter"/><rect x="480.52" y="75.95" width="0.9" height="0.9" fill="#fbb"/><polygon points="505.06,71.4 506.47,74.46 509.81,74.85 507.34,77.14 508,80.45 505.06,78.8 502.12,80.45 502.78,77.14 500.3,74.85 503.65,74.46" fill="#fff" stroke="#ff0000" stroke-width="1" stroke-linejoin="miter"/><rect x="504.61" y="75.95" width="0.9" height="0.9" fill="#fbb"/><polygon points="529.15,72.2 530.56,75.26 533.91,75.65 531.43,77.94 532.09,81.25 529.15,79.6 526.21,81.25 526.87,77.94 524.39,75.65 527.74,75.26" fill="#fff" stroke="#ff0000" stroke-width="1" stroke-linejoin="miter"/><rect x="528.7" y="76.75" width="0.9" height="0.9" fill="#fbb"/><polygon points="553.24,70.5 554.65,73.56 558,73.95 555.52,76.24 556.18,79.55 553.24,77.9 550.3,79.55 550.96,76.24 548.49,73.95 551.83,73.56" fill="#fff" stroke="#ff0000" stroke-width="1" stroke-linejoin="miter"/><rect x="552.79" y="75.05" width="0.9" height="0.9" fill="#fbb"/><polygon points="577.33,74 578.74,77.06 582.09,77.45 579.62,79.74 580.27,83.05 577.33,81.4 574.39,83.05 575.05,79.74 572.58,77.45 575.92,77.06" fill="#fff" stroke="#ff0000" stroke-width="1" stroke-linejoin="miter"/><rect x="576.88" y="78.55" width="0.9" height="0.9" fill="#fbb"/><polygon points="601.43,74.7 602.84,77.76 606.18,78.15 603.71,80.44 604.36,83.75 601.43,82.1 598.49,83.75 599.14,80.44 596.67,78.15 600.01,77.76" fill="#fff" stroke="#ff0000" stroke-width="1" stroke-linejoin="miter"/><rect x="600.98" y="79.25" width="0.9" height="0.9" fill="#fbb"/><polygon points="625.52,72.4 626.93,75.46 630.27,75.85 627.8,78.14 628.46,81.45 625.52,79.8 622.58,81.45 623.23,78.14 620.76,75.85 624.11,75.46" fill="#fff" stroke="#ff0000" stroke-width="1" stroke-linejoin="miter"/><rect x="625.07" y="76.95" width="0.9" height="0.9" fill="#fbb"/><polygon points="649.61,72.7 651.02,75.76 654.36,76.15 651.89,78.44 652.55,81.75 649.61,80.1 646.67,81.75 647.33,78.44 644.85,76.15 648.2,75.76" fill="#fff" stroke="#ff0000" stroke-width="1" stroke-linejoin="miter"/><rect x="649.16" y="77.25" width="0.9" height="0.9" fill="#fbb"/><polygon points="673.7,71.6 675.11,74.66 678.46,75.05 675.98,77.34 676.64,80.65 673.7,79 670.76,80.65 671.42,77.34 668.94,75.05 672.29,74.66" fill="#fff" stroke="#ff0000" stroke-width="1" stroke-linejoin="miter"/><rect x="673.25" y="76.15" width="0.9" height="0.9" fill="#fbb"/>
<path d="M384.6 27 C392.63 27.2 400.66 27.34 408.69 27.6 C416.72 27.86 424.75 28.7 432.78 28.7 C440.81 28.7 448.84 28.05 456.88 27.6 C464.91 27.15 472.94 25.9 480.97 25.9 C489 25.9 497.03 27.27 505.06 27.6 C513.09 27.93 521.12 28.3 529.15 28.3 C537.18 28.3 545.21 28.03 553.24 27.8 C561.27 27.57 569.3 26.7 577.33 26.7 C585.36 26.7 593.39 28.7 601.43 28.7 C609.46 28.7 617.49 28.05 625.52 27.9 C633.55 27.75 641.58 27.6 649.61 27.6 C657.64 27.6 665.67 27.93 673.7 28.1" fill="none" stroke="#0000ff" stroke-width="1.2" stroke-linejoin="round" stroke-dasharray="6 3.2 1.2 3.4"/><circle cx="384.6" cy="27" r="4.25" fill="#fff" stroke="#0000ff" stroke-width="0.9"/><rect x="384.15" y="26.55" width="0.9" height="0.9" fill="#bbf"/><circle cx="408.69" cy="27.6" r="4.25" fill="#fff" stroke="#0000ff" stroke-width="0.9"/><rect x="408.24" y="27.15" width="0.9" height="0.9" fill="#bbf"/><circle cx="432.78" cy="28.7" r="4.25" fill="#fff" stroke="#0000ff" stroke-width="0.9"/><rect x="432.33" y="28.25" width="0.9" height="0.9" fill="#bbf"/><circle cx="456.88" cy="27.6" r="4.25" fill="#fff" stroke="#0000ff" stroke-width="0.9"/><rect x="456.43" y="27.15" width="0.9" height="0.9" fill="#bbf"/><circle cx="480.97" cy="25.9" r="4.25" fill="#fff" stroke="#0000ff" stroke-width="0.9"/><rect x="480.52" y="25.45" width="0.9" height="0.9" fill="#bbf"/><circle cx="505.06" cy="27.6" r="4.25" fill="#fff" stroke="#0000ff" stroke-width="0.9"/><rect x="504.61" y="27.15" width="0.9" height="0.9" fill="#bbf"/><circle cx="529.15" cy="28.3" r="4.25" fill="#fff" stroke="#0000ff" stroke-width="0.9"/><rect x="528.7" y="27.85" width="0.9" height="0.9" fill="#bbf"/><circle cx="553.24" cy="27.8" r="4.25" fill="#fff" stroke="#0000ff" stroke-width="0.9"/><rect x="552.79" y="27.35" width="0.9" height="0.9" fill="#bbf"/><circle cx="577.33" cy="26.7" r="4.25" fill="#fff" stroke="#0000ff" stroke-width="0.9"/><rect x="576.88" y="26.25" width="0.9" height="0.9" fill="#bbf"/><circle cx="601.43" cy="28.7" r="4.25" fill="#fff" stroke="#0000ff" stroke-width="0.9"/><rect x="600.98" y="28.25" width="0.9" height="0.9" fill="#bbf"/><circle cx="625.52" cy="27.9" r="4.25" fill="#fff" stroke="#0000ff" stroke-width="0.9"/><rect x="625.07" y="27.45" width="0.9" height="0.9" fill="#bbf"/><circle cx="649.61" cy="27.6" r="4.25" fill="#fff" stroke="#0000ff" stroke-width="0.9"/><rect x="649.16" y="27.15" width="0.9" height="0.9" fill="#bbf"/><circle cx="673.7" cy="28.1" r="4.25" fill="#fff" stroke="#0000ff" stroke-width="0.9"/><rect x="673.25" y="27.65" width="0.9" height="0.9" fill="#bbf"/>
<rect x="507.6" y="35.4" width="260" height="34" fill="#fff" stroke="#6a6a6a" stroke-width="1"/>
<path d="M507.6 43.2 H539.6" stroke="#000" stroke-width="1.5"/>
<rect x="519.7" y="39.1" width="8.2" height="8.2" fill="#000"/>
<text x="543.4" y="48.2" font-size="14.6">C1;</text>
<path d="M564.9 43.2 H596.9" stroke="#ff0000" stroke-width="1.2"/>
<polygon points="580.8,37.9 582.36,41.06 585.84,41.56 583.32,44.02 583.92,47.49 580.8,45.85 577.68,47.49 578.28,44.02 575.76,41.56 579.24,41.06" fill="#ff0000"/>
<text x="600.6" y="48.2" font-size="14.6">C2;</text>
<path d="M621.7 43.2 H653.7" stroke="#0000ff" stroke-width="1.2"/>
<circle cx="637.6" cy="43.2" r="4.85" fill="#0000ff"/>
<text x="657.6" y="48.2" font-size="14.6">C3</text>
<path d="M507.6 60.9 H523.8" stroke="#000" stroke-width="1.4" stroke-dasharray="6 3.2 1.2 3.4"/>
<path d="M523.8 60.9 H539.6" stroke="#000" stroke-width="1.4" stroke-dasharray="6 3.2 1.2 3.4"/>
<rect x="520.05" y="57.15" width="7.5" height="7.5" fill="#fff" stroke="#000" stroke-width="1.1"/><rect x="523.35" y="60.45" width="0.9" height="0.9" fill="#bbb"/>
<text x="543.4" y="65.9" font-size="14.6">C4;</text>
<path d="M564.9 60.9 H580.8" stroke="#ff0000" stroke-width="1.2" stroke-dasharray="6 3.2 1.2 3.4"/>
<path d="M580.8 60.9 H596.9" stroke="#ff0000" stroke-width="1.2" stroke-dasharray="6 3.2 1.2 3.4"/>
<polygon points="580.8,55.9 582.21,58.96 585.56,59.35 583.08,61.64 583.74,64.95 580.8,63.3 577.86,64.95 578.52,61.64 576.04,59.35 579.39,58.96" fill="#fff" stroke="#ff0000" stroke-width="1" stroke-linejoin="miter"/><rect x="580.35" y="60.45" width="0.9" height="0.9" fill="#fbb"/>
<text x="600.6" y="65.9" font-size="14.6">C5;</text>
<path d="M621.7 60.9 H637.6" stroke="#0000ff" stroke-width="1.2" stroke-dasharray="6 3.2 1.2 3.4"/>
<path d="M637.6 60.9 H653.7" stroke="#0000ff" stroke-width="1.2" stroke-dasharray="6 3.2 1.2 3.4"/>
<circle cx="637.6" cy="60.9" r="4.25" fill="#fff" stroke="#0000ff" stroke-width="0.9"/><rect x="637.15" y="60.45" width="0.9" height="0.9" fill="#bbf"/>
<text x="657.6" y="65.9" font-size="14.6">C6</text>
</g>
<rect x="47.7" y="6.9" width="291.6" height="234.6" fill="none" stroke="#2b2b2b" stroke-width="1.3"/>
<path d="M128.7 241.5 V237.2 M209.7 241.5 V237.2 M290.7 241.5 V237.2 M88.2 241.5 V239 M169.2 241.5 V239 M250.2 241.5 V239 M331.2 241.5 V239 M47.7 163.3 H52.2 M47.7 85.1 H52.2 M47.7 202.4 H50.2 M47.7 124.2 H50.2 M47.7 46 H50.2 " stroke="#2b2b2b" stroke-width="1.2" fill="none"/>
<text x="47.7" y="257.4" font-size="14.6" text-anchor="middle">0</text>
<text x="128.7" y="257.4" font-size="14.6" text-anchor="middle">100</text>
<text x="209.7" y="257.4" font-size="14.6" text-anchor="middle">200</text>
<text x="290.7" y="257.4" font-size="14.6" text-anchor="middle">300</text>
<text x="42.5" y="245.8" font-size="14.6" text-anchor="end">200</text>
<text x="42.5" y="167.6" font-size="14.6" text-anchor="end">300</text>
<text x="42.5" y="89.4" font-size="14.6" text-anchor="end">400</text>
<text x="42.5" y="11.2" font-size="14.6" text-anchor="end">500</text>
<rect x="384.6" y="8.6" width="289.1" height="232.9" fill="none" stroke="#2b2b2b" stroke-width="1.3"/>
<path d="M432.78 241.5 V237.2 M480.97 241.5 V237.2 M529.15 241.5 V237.2 M577.33 241.5 V237.2 M625.52 241.5 V237.2 M408.69 241.5 V239 M456.88 241.5 V239 M505.06 241.5 V239 M553.24 241.5 V239 M601.42 241.5 V239 M649.61 241.5 V239 M384.6 163.87 H389.1 M384.6 86.23 H389.1 M384.6 202.68 H387.1 M384.6 125.05 H387.1 M384.6 47.42 H387.1 " stroke="#2b2b2b" stroke-width="1.2" fill="none"/>
<text x="384.6" y="257.4" font-size="14.6" text-anchor="middle">0</text>
<text x="432.78" y="257.4" font-size="14.6" text-anchor="middle">60</text>
<text x="480.97" y="257.4" font-size="14.6" text-anchor="middle">120</text>
<text x="529.15" y="257.4" font-size="14.6" text-anchor="middle">180</text>
<text x="577.33" y="257.4" font-size="14.6" text-anchor="middle">240</text>
<text x="625.52" y="257.4" font-size="14.6" text-anchor="middle">300</text>
<text x="673.7" y="257.4" font-size="14.6" text-anchor="middle">360</text>
<text x="379.4" y="245.8" font-size="14.6" text-anchor="end">60</text>
<text x="379.4" y="168.17" font-size="14.6" text-anchor="end">70</text>
<text x="379.4" y="90.53" font-size="14.6" text-anchor="end">80</text>
<text x="379.4" y="12.9" font-size="14.6" text-anchor="end">90</text>
<text x="193.6" y="281.8" font-size="14.6" text-anchor="middle">times <tspan font-size="15.4" letter-spacing="0.5">(s)</tspan></text>
<text x="193.0" y="310.6" font-size="17.4" text-anchor="middle">(a)</text>
<text x="529.1" y="281.8" font-size="14.6" text-anchor="middle">times <tspan font-size="15.4" letter-spacing="0.5">(s)</tspan></text>
<text x="528.6" y="310.6" font-size="17.4" text-anchor="middle">(b)</text>
<text transform="translate(11.9 124.4) rotate(-90)" font-size="15.1" text-anchor="middle"><tspan font-style="italic" font-size="16">p</tspan><tspan font-size="10" dy="3">2</tspan><tspan dy="-3"> (kPa)</tspan></text>
<text transform="translate(354.8 124.5) rotate(-90)" font-size="15.1" text-anchor="middle"><tspan font-style="italic">T</tspan><tspan font-size="10" dy="3">2</tspan><tspan dy="-3"> (°C)</tspan></text>
</svg></body></html>
